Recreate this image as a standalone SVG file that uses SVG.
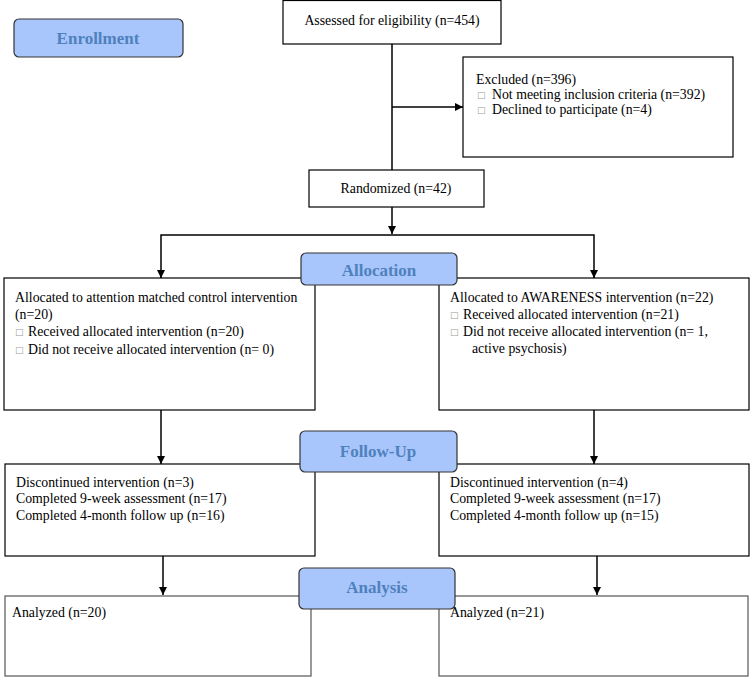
<svg xmlns="http://www.w3.org/2000/svg" width="750" height="677" viewBox="0 0 750 677">
<style>
.box{fill:#fff;stroke:#000;stroke-width:1.2}
.gbox{fill:#fff;stroke:#555;stroke-width:1.2}
.phase{fill:#a8c6fc;stroke:#333;stroke-width:1.2}
.t{font-family:"Liberation Serif","Times New Roman",serif;font-size:13.8px;fill:#000}
.b{font-family:"DejaVu Sans",sans-serif;font-size:9px;fill:#999}
.ph{font-family:"Liberation Serif","Times New Roman",serif;font-size:17px;font-weight:bold;fill:#4f81bd;text-anchor:middle}
.ln{fill:none;stroke:#000;stroke-width:1.5}
</style>
<defs>
<marker id="ah" markerWidth="8" markerHeight="8" refX="8" refY="4" orient="auto" markerUnits="userSpaceOnUse">
<path d="M0,0 L8,4 L0,8 z" fill="#000"/>
</marker>
</defs>
<g id="connectors">
<line class="ln" x1="392" y1="44" x2="392" y2="170"/>
<line class="ln" x1="392" y1="107" x2="463" y2="107" marker-end="url(#ah)"/>
<line class="ln" x1="392" y1="207" x2="392" y2="234" marker-end="url(#ah)"/>
<polyline class="ln" points="161,278 161,235 594,235 594,278"/>
<line class="ln" x1="161" y1="270" x2="161" y2="278" marker-end="url(#ah)"/>
<line class="ln" x1="594" y1="270" x2="594" y2="278" marker-end="url(#ah)"/>
<line class="ln" x1="161" y1="410" x2="161" y2="464" marker-end="url(#ah)"/>
<line class="ln" x1="594" y1="410" x2="594" y2="464" marker-end="url(#ah)"/>
<line class="ln" x1="163" y1="556" x2="163" y2="595" marker-end="url(#ah)"/>
<line class="ln" x1="597" y1="556" x2="597" y2="595" marker-end="url(#ah)"/>
</g>
<g id="enrollment">
<rect class="phase" x="14" y="19" width="169" height="38" rx="5"/>
<text class="ph" x="98" y="44">Enrollment</text>
</g>
<g id="assessed">
<rect class="box" x="283" y="0.5" width="218" height="43.5"/>
<text class="t" x="392" y="25" text-anchor="middle">Assessed for eligibility (n=454)</text>
</g>
<g id="excluded">
<rect class="box" x="463" y="57" width="270" height="100"/>
<text class="t" x="476" y="84">Excluded (n=396)</text>
<text class="b" x="477" y="98">□</text>
<text class="t" x="492" y="99">Not meeting inclusion criteria (n=392)</text>
<text class="b" x="477" y="113">□</text>
<text class="t" x="492" y="114">Declined to participate (n=4)</text>
</g>
<g id="randomized">
<rect class="box" x="309" y="170" width="175" height="37"/>
<text class="t" x="396" y="193" text-anchor="middle">Randomized (n=42)</text>
</g>
<g id="allocation-left">
<rect class="box" x="4" y="278" width="311" height="132"/>
<text class="t" x="15" y="302">Allocated to attention matched control intervention</text>
<text class="t" x="15" y="319">(n=20)</text>
<text class="b" x="15" y="335">□</text>
<text class="t" x="28" y="336">Received allocated intervention (n=20)</text>
<text class="b" x="15" y="353">□</text>
<text class="t" x="28" y="354">Did not receive allocated intervention (n= 0)</text>
</g>
<g id="allocation-right">
<rect class="box" x="439" y="278" width="310" height="132"/>
<text class="t" x="450" y="302">Allocated to AWARENESS intervention (n=22)</text>
<text class="b" x="450" y="318">□</text>
<text class="t" x="463" y="319">Received allocated intervention (n=21)</text>
<text class="b" x="450" y="335">□</text>
<text class="t" x="463" y="336">Did not receive allocated intervention (n= 1,</text>
<text class="t" x="472" y="353">active psychosis)</text>
</g>
<g id="allocation">
<rect class="phase" x="301" y="253" width="156" height="32" rx="5"/>
<text class="ph" x="379" y="276">Allocation</text>
</g>
<g id="followup-left">
<rect class="box" x="5" y="464" width="310" height="92"/>
<text class="t" x="16" y="487">Discontinued intervention (n=3)</text>
<text class="t" x="16" y="503">Completed 9-week assessment (n=17)</text>
<text class="t" x="16" y="520">Completed 4-month follow up (n=16)</text>
</g>
<g id="followup-right">
<rect class="box" x="439" y="464" width="310" height="92"/>
<text class="t" x="450" y="487">Discontinued intervention (n=4)</text>
<text class="t" x="450" y="503">Completed 9-week assessment (n=17)</text>
<text class="t" x="450" y="520">Completed 4-month follow up (n=15)</text>
</g>
<g id="followup">
<rect class="phase" x="300" y="431" width="157" height="41" rx="5"/>
<text class="ph" x="378" y="457">Follow-Up</text>
</g>
<g id="analysis-left">
<rect class="gbox" x="5" y="596" width="306" height="80"/>
<text class="t" x="12" y="617">Analyzed (n=20)</text>
</g>
<g id="analysis-right">
<rect class="gbox" x="439" y="596" width="309" height="80"/>
<text class="t" x="450" y="617">Analyzed (n=21)</text>
</g>
<g id="analysis">
<rect class="phase" x="299" y="568" width="156" height="41" rx="5"/>
<text class="ph" x="377" y="593">Analysis</text>
</g>
</svg>
